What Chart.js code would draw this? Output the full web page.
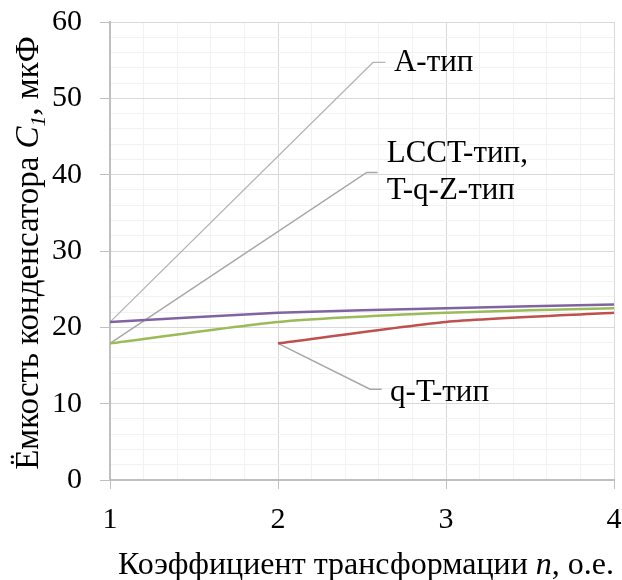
<!DOCTYPE html>
<html>
<head>
<meta charset="utf-8">
<script src="https://cdn.jsdelivr.net/npm/chart.js@4.4.1/dist/chart.umd.min.js"></script>
<style>
  html, body { margin: 0; padding: 0; background: #fff; }
  #wrap { width: 622px; height: 580px; }
</style>
</head>
<body>
<div id="wrap"><canvas id="chart" width="622" height="580"></canvas></div>
<script>
// transformation ratio n
const nValues = [1, 2, 3, 4];
// capacitance C1, uF
const aType    = [20.7, 21.9, 22.5, 23.0];
const lcctType = [17.9, 20.7, 21.9, 22.5];
const qtType   = [null, 17.9, 20.7, 21.9];

// callout leaders, in data units: [start, elbow, end]
const aLeader    = [[1, 20.7], [2.565, 54.7], [2.64, 54.7]];
const lcctLeader = [[1, 17.9], [2.528, 40.3], [2.593, 40.3]];
const qtLeader   = [[2, 17.9], [2.548, 11.9], [2.617, 11.9]];

const callouts = [
  { lines: ['A-тип'], x: 2.69, y: 54.7 },
  { lines: ['LCCT-тип,', 'T-q-Z-тип'], x: 2.647, y: 40.3 },
  { lines: ['q-T-тип'], x: 2.667, y: 11.4 }
];

const FONT = '"Liberation Serif", "Times New Roman", serif';

const toPoints = (ys) => nValues.map((x, i) => ({ x: x, y: ys[i] }));
const toXY = (pts) => pts.map(p => ({ x: p[0], y: p[1] }));

const isMajor = (v) => Math.abs(v - Math.round(v)) < 1e-6;

function leaderSet(pts, color, width) {
  return {
    data: toXY(pts),
    borderColor: color,
    borderWidth: width,
    pointRadius: 0,
    tension: 0,
    order: 10
  };
}

function seriesSet(ys, color) {
  return {
    data: toPoints(ys),
    borderColor: color,
    borderWidth: 2.5,
    pointRadius: 0,
    tension: 0.2,
    spanGaps: false,
    order: 1
  };
}

// draws a run of text pieces with mixed styles, centred on the origin
function drawRich(ctx, parts, size) {
  let w = 0;
  parts.forEach(p => {
    ctx.font = (p.italic ? 'italic ' : '') + (p.sub ? size * 0.65 : size) + 'px ' + FONT;
    p.w = ctx.measureText(p.t).width;
    w += p.w;
  });
  let x = -w / 2;
  parts.forEach(p => {
    ctx.font = (p.italic ? 'italic ' : '') + (p.sub ? size * 0.65 : size) + 'px ' + FONT;
    ctx.fillText(p.t, x, p.sub ? size * 0.2 : 0);
    x += p.w;
  });
}

const textPlugin = {
  id: 'texts',
  afterDraw(chart) {
    const ctx = chart.ctx;
    const xs = chart.scales.x, ys = chart.scales.y;
    ctx.save();
    ctx.fillStyle = '#000';

    // callout labels
    ctx.font = '31px ' + FONT;
    ctx.textAlign = 'left';
    ctx.textBaseline = 'middle';
    callouts.forEach(c => {
      const px = xs.getPixelForValue(c.x);
      const py = ys.getPixelForValue(c.y);
      const lh = 37;
      const top = py - (c.lines.length - 1) * lh / 2;
      c.lines.forEach((t, i) => ctx.fillText(t, px, top + i * lh));
    });

    // x axis title
    ctx.textAlign = 'left';
    ctx.textBaseline = 'alphabetic';
    ctx.save();
    ctx.translate(366, 574);
    drawRich(ctx, [
      { t: 'Коэффициент трансформации ' },
      { t: 'n', italic: true },
      { t: ', о.е.' }
    ], 32);
    ctx.restore();

    // y axis title
    ctx.save();
    ctx.translate(38, 253);
    ctx.rotate(-Math.PI / 2);
    drawRich(ctx, [
      { t: 'Ёмкость конденсатора ' },
      { t: 'C', italic: true },
      { t: '1', italic: true, sub: true },
      { t: ', мкФ' }
    ], 33);
    ctx.restore();

    ctx.restore();
  }
};

new Chart(document.getElementById('chart'), {
  type: 'line',
  data: {
    datasets: [
      seriesSet(aType, '#8064a2'),
      seriesSet(lcctType, '#9bbb59'),
      seriesSet(qtType, '#c0504d'),
      leaderSet(aLeader, '#b4b4b4', 1.2),
      leaderSet(lcctLeader, '#a6a6a6', 1.5),
      leaderSet(qtLeader, '#a6a6a6', 1.5)
    ]
  },
  options: {
    responsive: false,
    animation: false,
    events: [],
    layout: { padding: { top: 22, right: 8, left: 0, bottom: 0 } },
    plugins: {
      legend: { display: false },
      tooltip: { enabled: false }
    },
    scales: {
      x: {
        type: 'linear',
        min: 1,
        max: 4,
        afterFit: (s) => { s.height = 100; s.paddingLeft = 0; s.paddingRight = 0; },
        ticks: {
          stepSize: 0.2,
          autoSkip: false,
          maxRotation: 0,
          padding: 13,
          color: '#000',
          font: { family: FONT, size: 30 },
          callback: (v) => isMajor(v) ? String(Math.round(v)) : ''
        },
        grid: {
          color: (c) => isMajor(c.tick.value) ? '#d9d9d9' : '#f2f2f2',
          tickColor: (c) => isMajor(c.tick.value) ? '#bfbfbf' : 'rgba(0,0,0,0)',
          tickLength: 9,
          lineWidth: 1
        },
        border: { color: '#bfbfbf', width: 2 }
      },
      y: {
        min: 0,
        max: 60,
        afterFit: (s) => { s.width = 110; s.paddingTop = 0; s.paddingBottom = 0; },
        ticks: {
          stepSize: 2,
          autoSkip: false,
          padding: 18,
          color: '#000',
          font: { family: FONT, size: 30 },
          callback: (v) => v % 10 === 0 ? String(v) : ''
        },
        grid: {
          color: (c) => c.tick.value % 10 === 0 ? '#d9d9d9' : '#f2f2f2',
          tickColor: (c) => c.tick.value % 10 === 0 ? '#bfbfbf' : 'rgba(0,0,0,0)',
          tickLength: 10,
          lineWidth: 1
        },
        border: { color: '#bfbfbf', width: 2 }
      }
    }
  },
  plugins: [textPlugin]
});
</script>
</body>
</html>
